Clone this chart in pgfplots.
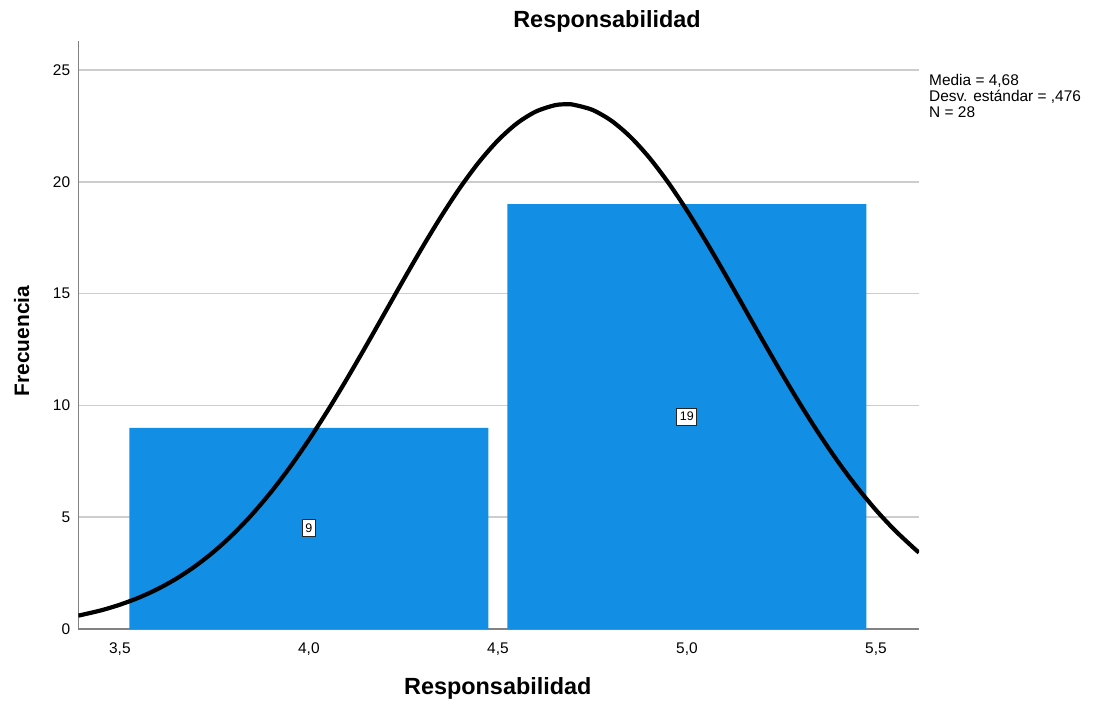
\documentclass[border=0pt]{standalone}
\usepackage{fontspec}
\setmainfont{Liberation Sans}
\usepackage{pgfplots}
\pgfplotsset{compat=1.18}
\definecolor{barblue}{RGB}{18,143,229}
\definecolor{gridgray}{RGB}{205,205,205}
\definecolor{axgray}{RGB}{130,130,130}
\begin{document}
\begin{tikzpicture}
\useasboundingbox (0,0) rectangle (1101bp,704bp);
\begin{axis}[
  at={(78.3bp,75bp)}, anchor=south west,
  scale only axis, width=840.7bp, height=588bp,
  xmin=3.39, xmax=5.614, ymin=0, ymax=26.3,
  axis x line=bottom, axis y line=left,
  axis line style={-, draw=axgray, line width=1.5bp},
  xtick={3.5,4,4.5,5,5.5}, ytick={0,5,10,15,20,25},
  major tick length=0pt,
  ymajorgrids, grid style={draw=gridgray, line width=1.5bp},
  /pgf/number format/assume math mode=true,
  xticklabel style={font=\fontsize{15.5}{18}\selectfont, anchor=north, inner sep=0pt, yshift=-14bp,
     /pgf/number format/.cd, fixed, fixed zerofill, precision=1, use comma},
  yticklabel style={font=\fontsize{15.5}{18}\selectfont, anchor=east, inner sep=0pt, xshift=-8bp},
  clip=true,
]
\addplot[ybar, bar width=0.95, fill=barblue, draw=none] coordinates {(4,9) (5,19)};
\addplot[black, line width=4.2bp, smooth, mark=none] coordinates {
(3.39,0.597) (3.45,0.833) (3.50,1.087) (3.55,1.402) (3.60,1.789) (3.65,2.258)
(3.70,2.819) (3.75,3.481) (3.80,4.249) (3.85,5.132) (3.90,6.129) (3.95,7.241)
(4.00,8.460) (4.05,9.775) (4.10,11.171) (4.15,12.627) (4.20,14.116) (4.25,15.607)
(4.30,17.066) (4.35,18.456) (4.40,19.742) (4.45,20.885) (4.50,21.851) (4.55,22.611)
(4.60,23.141) (4.65,23.424) (4.68,23.470) (4.70,23.449) (4.75,23.218) (4.80,22.736)
(4.85,22.020) (4.90,21.092) (4.95,19.982) (5.00,18.723) (5.05,17.350) (5.10,15.902)
(5.15,14.415) (5.20,12.923) (5.25,11.459) (5.30,10.049) (5.35,8.716) (5.40,7.476)
(5.45,6.343) (5.50,5.322) (5.55,4.417) (5.60,3.625) (5.614,3.42)};
\addplot[only marks, mark=none, point meta=explicit symbolic,
  nodes near coords, nodes near coords align={center},
  every node near coord/.append style={anchor=center, fill=white, draw=black!85, line width=1bp,
     inner xsep=3bp, inner ysep=4bp, font=\fontsize{12.5}{14}\selectfont, text=black}]
  coordinates {(4,4.5) [9] (5,9.5) [19]};
\end{axis}
\node[anchor=base, inner sep=0pt, font=\bfseries\fontsize{23.5}{28}\selectfont] at (607bp,676.7bp) {Responsabilidad};
\node[anchor=base, inner sep=0pt, font=\bfseries\fontsize{23.5}{28}\selectfont] at (497.8bp,10bp) {Responsabilidad};
\node[anchor=base, inner sep=0pt, rotate=90, font=\bfseries\fontsize{21}{25}\selectfont] at (29bp,363bp) {Frecuencia};
\node[anchor=base west, inner sep=0pt, font=\fontsize{15.5}{16}\selectfont] at (929bp,618.3bp) {Media = 4,68};
\node[anchor=base west, inner sep=0pt, font=\fontsize{15.5}{16}\selectfont] at (929bp,602.3bp) {Desv. estándar = ,476};
\node[anchor=base west, inner sep=0pt, font=\fontsize{15.5}{16}\selectfont] at (929bp,586.3bp) {N = 28};
\end{tikzpicture}
\end{document}
